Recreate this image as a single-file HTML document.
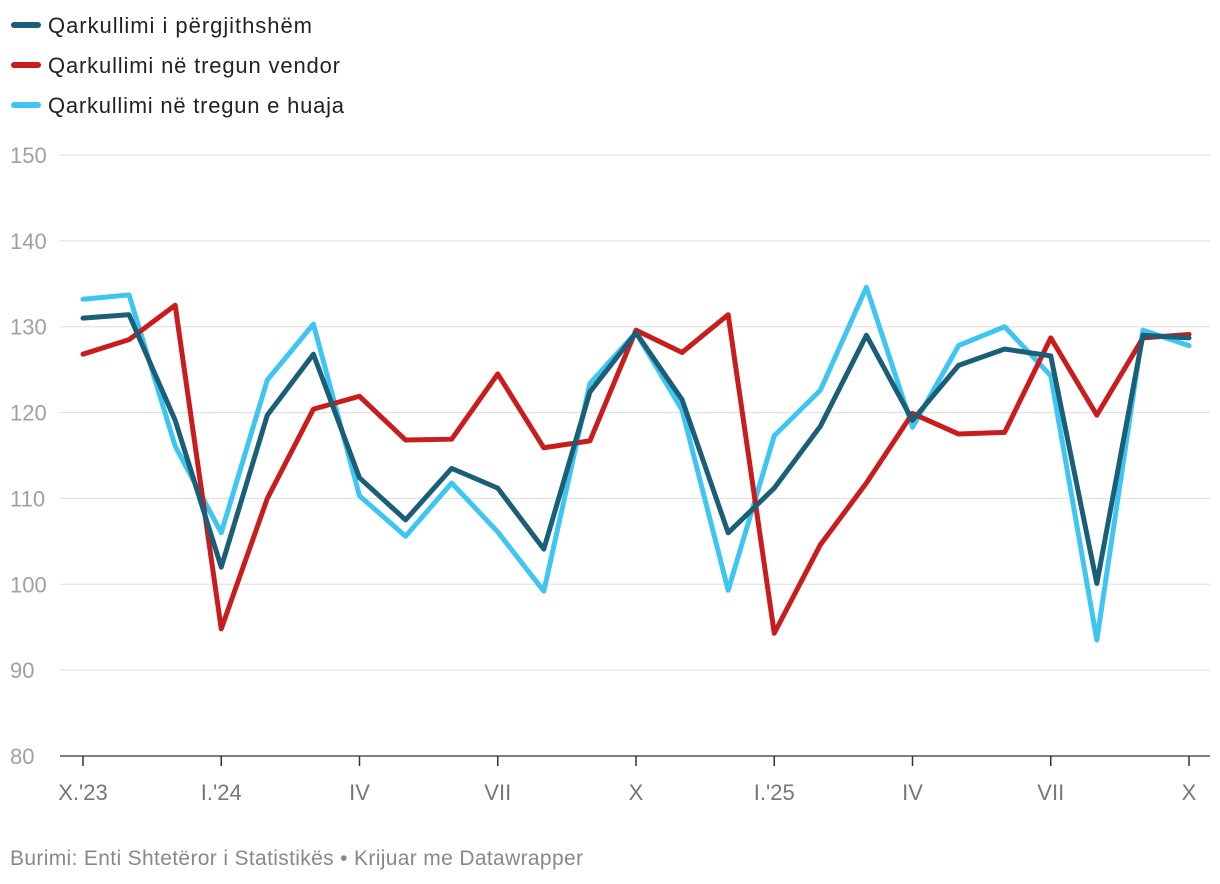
<!DOCTYPE html>
<html><head><meta charset="utf-8"><style>
body{margin:0;background:#fff;font-family:"Liberation Sans",sans-serif;}
svg{display:block}
</style></head><body>
<svg id="chart" width="1220" height="884">
<g id="legend"></g>
<g id="grid"></g>
<g id="xaxis"></g>
<g id="lines"></g>
<text x="10" y="865" font-size="21" fill="#888" textLength="573">Burimi: Enti Shtetëror i Statistikës • Krijuar me Datawrapper</text>
</svg>
<script>
const seriesNames=["Qarkullimi i përgjithshëm","Qarkullimi në tregun vendor","Qarkullimi në tregun e huaja"];
const seriesColors=["#1b5e78","#c91d1d","#3ec5f2"];
const legendWidths=[264,292,296];
const total=[131.0,131.4,119.1,102,119.7,126.8,112.4,107.5,113.5,111.2,104.1,122.4,129.3,121.5,106,111.2,118.4,129.0,119.1,125.5,127.4,126.6,100.1,129,128.7];
const domestic=[126.8,128.5,132.5,94.8,110,120.4,121.9,116.8,116.9,124.5,115.9,116.7,129.6,127,131.4,94.3,104.6,111.8,119.9,117.5,117.7,128.7,119.7,128.7,129.1];
const foreign=[133.2,133.7,116.1,106,123.8,130.3,110.3,105.6,111.8,106.1,99.2,123.4,129.3,120.3,99.3,117.3,122.6,134.6,118.3,127.8,130,124.3,93.5,129.6,127.8];
const yTicks=[80,90,100,110,120,130,140,150];
const xTickIdx=[0,3,6,9,12,15,18,21,24];
const xTickLabels=["X.'23","I.'24","IV","VII","X","I.'25","IV","VII","X"];
const NS="http://www.w3.org/2000/svg";
const y=v=>756-(v-80)*(601/70);
const x=i=>83+i*(1106/24);
function mk(tag,attrs,parent,text){const e=document.createElementNS(NS,tag);for(const k in attrs)e.setAttribute(k,attrs[k]);if(text!==undefined)e.textContent=text;parent.appendChild(e);return e;}
const grid=document.getElementById('grid');
yTicks.forEach(t=>{
  const l=mk('line',{x1:60,x2:1210,y1:y(t),y2:y(t),stroke:t===80?'#333':'#ddd','stroke-width':t===80?1.2:1},grid);
  
  
  const tx=mk('text',{x:10,y:y(t)+8,'font-size':22,fill:'#a0a0a0'},grid,t);
  
  
});
const xa=document.getElementById('xaxis');
xTickIdx.forEach((i,k)=>{
  const l=mk('line',{x1:x(i),x2:x(i),y1:756,y2:766,stroke:'#333','stroke-width':1.5},xa);
  
  
  const tx=mk('text',{x:x(i),y:800,'font-size':22,fill:'#777','text-anchor':'middle'},xa,xTickLabels[k]);
  
  
});
const lines=document.getElementById('lines');
[foreign,domestic,total].forEach((s,j)=>{
  const idx=2-j;
  const p=mk('polyline',{points:s.map((v,i)=>x(i)+','+y(v)).join(' '),fill:'none',stroke:seriesColors[idx],'stroke-width':5,'stroke-linejoin':'round','stroke-linecap':'round'},lines);
  
  
});
const lg=document.getElementById('legend');
seriesNames.forEach((n,i)=>{
  const yy=25+i*40;
  const r=mk('line',{x1:14,x2:38,y1:yy,y2:yy,stroke:seriesColors[i],'stroke-width':6,'stroke-linecap':'round'},lg);
  
  
  const t=mk('text',{x:48,y:yy+8,'font-size':22,fill:'#222',textLength:legendWidths[i]},lg,n);
  
  
});
</script>
</body></html>
